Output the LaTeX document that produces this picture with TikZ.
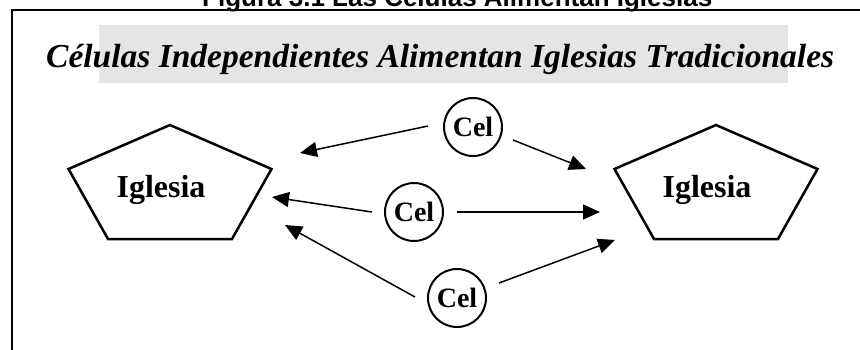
\documentclass[tikz,border=0pt]{standalone}
\usepackage{fontspec}
\setmainfont{Liberation Serif}
\newfontfamily\captionfont{Liberation Sans}
\usepackage{xcolor}
\definecolor{band}{gray}{0.9}
\usetikzlibrary{arrows.meta,calc}

\begin{document}
\begin{tikzpicture}[x=1pt,y=-1pt,
    cel/.style={circle,draw,line width=2pt,minimum size=58pt,inner sep=0pt,
        font=\fontsize{28}{28}\selectfont\bfseries},
    igltext/.style={anchor=base,inner sep=0pt,font=\fontsize{32}{32}\selectfont\bfseries},
    iglesia/.style={line width=2.5pt,line join=miter},
    flow/.style={line width=1.5pt,-{Triangle[length=17pt,width=15pt]}}]
    \clip (0,0) rectangle (860,349);

    % Caption and frame
    \node[anchor=base west,inner sep=0pt,font=\captionfont\bfseries\fontsize{26}{26}\selectfont]
        (fig) at (202,6.5) {Figura 3.1 Las Células Alimentan Iglesias};
    \draw[line width=2.5pt] (12,360) -- (12,10) -- (870,10);

    % Title
    \fill[band] (99,25) rectangle (788,83);
    \node[anchor=base west,inner sep=0pt,font=\fontsize{33.5}{34}\selectfont\bfseries\itshape]
        (title) at (46,67) {Células Independientes Alimentan Iglesias Tradicionales};

    % Churches
    \foreach \n/\cx in {1/170,2/716} {
        \coordinate (c\n) at (\cx,182);
        \draw[iglesia,shift={(c\n)}] (0,-57) -- (101.5,-13) -- (62,57) -- (-62,57) -- (-101.5,-13) -- cycle;
        \node[igltext] (igl\n) at ($(c\n)+(-9,15)$) {Iglesia};
    }

    % Cells
    \node[cel] (cel1) at (473,127) {Cel};
    \node[cel] (cel2) at (414,212) {Cel};
    \node[cel] (cel3) at (457,298) {Cel};

    % Arrow tips
    \coordinate (t1) at (300,153);
    \coordinate (t2) at (272,197);
    \coordinate (t3) at (285,225);
    \coordinate (t4) at (586,169);
    \coordinate (t5) at (600,212);
    \coordinate (t6) at (615,240);

    % Arrows
    \draw[flow] ([shift={(-15,-1)}]cel1.west) -- (t1);
    \draw[flow] ([shift={(-12,0)}]cel2.west) -- (t2);
    \draw[flow] ([shift={(-12,-1)}]cel3.west) -- (t3);
    \draw[flow] ([shift={(10,13)}]cel1.east) -- (t4);
    \draw[flow] ([shift={(13,0)}]cel2.east) -- (t5);
    \draw[flow] ([shift={(12,-15)}]cel3.east) -- (t6);
\end{tikzpicture}
\end{document}
